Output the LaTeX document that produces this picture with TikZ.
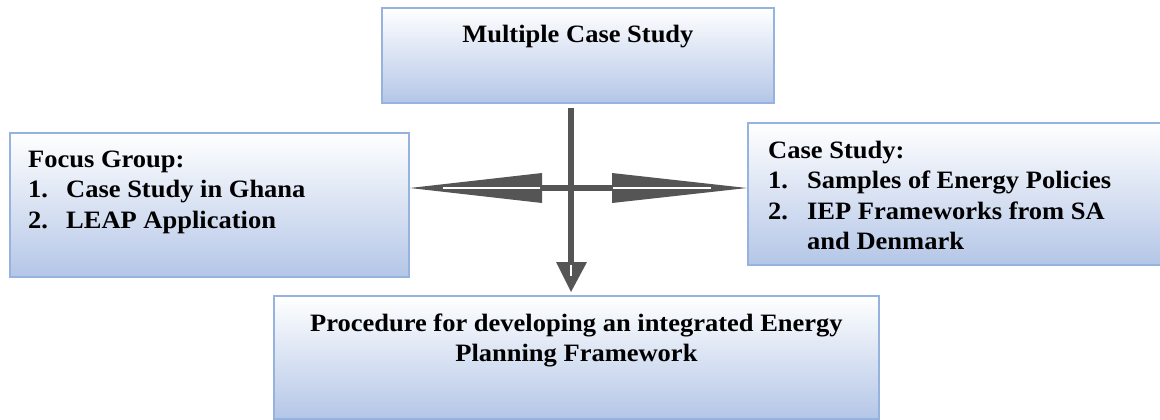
\documentclass[tikz,border=0pt]{standalone}
\usepackage{fontspec}
\setmainfont{Liberation Serif}[FakeStretch=1.06]
\definecolor{boxline}{RGB}{149,179,222}
\definecolor{boxfill}{RGB}{180,198,231}
\definecolor{arrgray}{RGB}{85,85,85}
\newcommand{\listfont}{\bfseries\fontsize{25}{30.5}\selectfont}
\begin{document}
\begin{tikzpicture}
  [x=1pt,y=-1pt,
   box/.style={draw=boxline,line width=1.8pt,top color=white,bottom color=boxfill,
     inner sep=0pt,anchor=north west},
   txt/.style={inner sep=0pt,font=\listfont},
   shaft/.style={draw=arrgray,line width=6pt},
   wedge/.style={fill=arrgray,draw=none},
   gleam/.style={draw=white,line width=2.5pt}]
  \useasboundingbox (0,0) rectangle (1160,420);

  % boxes
  \node[box,minimum width=392pt,minimum height=95pt] (multi) at (381,7) {};
  \node[box,minimum width=399pt,minimum height=144pt] (focus) at (9,132) {};
  \node[box,minimum width=420pt,minimum height=142pt] (cases) at (747,122) {};
  \node[box,minimum width=605pt,minimum height=123pt] (proc) at (273,295) {};

  % texts
  \node[txt,anchor=base] (multitxt) at ([shift={(0,36)}]multi.north) {Multiple Case Study};
  \node[txt,anchor=base west] (focustxt) at ([shift={(19,35)}]focus.north west)
    {\begin{tabular}[t]{@{}p{38pt}@{}l@{}}
      \multicolumn{2}{@{}l@{}}{Focus Group:}\\
      1. & Case Study in Ghana\\
      2. & LEAP Application
    \end{tabular}};
  \node[txt,anchor=base west] (casestxt) at ([shift={(21,36)}]cases.north west)
    {\begin{tabular}[t]{@{}p{39pt}@{}l@{}}
      \multicolumn{2}{@{}l@{}}{Case Study:}\\
      1. & Samples of Energy Policies\\
      2. & IEP Frameworks from SA\\
         & and Denmark
    \end{tabular}};
  \node[txt,anchor=base,align=center,font=\bfseries\fontsize{25}{30}\selectfont] (proctxt)
    at ([shift={(0,66)}]proc.north)
    {Procedure for developing an integrated Energy\\Planning Framework};

  % arrows
  \coordinate (hub) at (571,188);
  \draw[shaft] (hub |- multi.south) ++(0,4) -- ([yshift=14pt]hub |- proc.north);
  \draw[shaft] ([xshift=-30pt]hub) -- ([xshift=42pt]hub);
  \fill[wedge] (focus.east |- hub) -- ([shift={(-29,-15)}]hub) -- ([shift={(-29,15)}]hub) -- cycle;
  \fill[wedge] (cases.west |- hub) -- ([shift={(41,-15)}]hub) -- ([shift={(41,15)}]hub) -- cycle;
  \fill[wedge] ([yshift=3pt]hub |- proc.north) -- ([shift={(-15,74)}]hub) -- ([shift={(16,74)}]hub) -- cycle;
  \draw[gleam] ([xshift=-128pt]hub) -- ([xshift=-31pt]hub);
  \draw[gleam] ([xshift=42pt]hub) -- ([xshift=140pt]hub);
  \draw[gleam,line width=1.2pt] ([yshift=-77pt]hub) -- ([yshift=-88pt]hub);
\end{tikzpicture}
\end{document}
